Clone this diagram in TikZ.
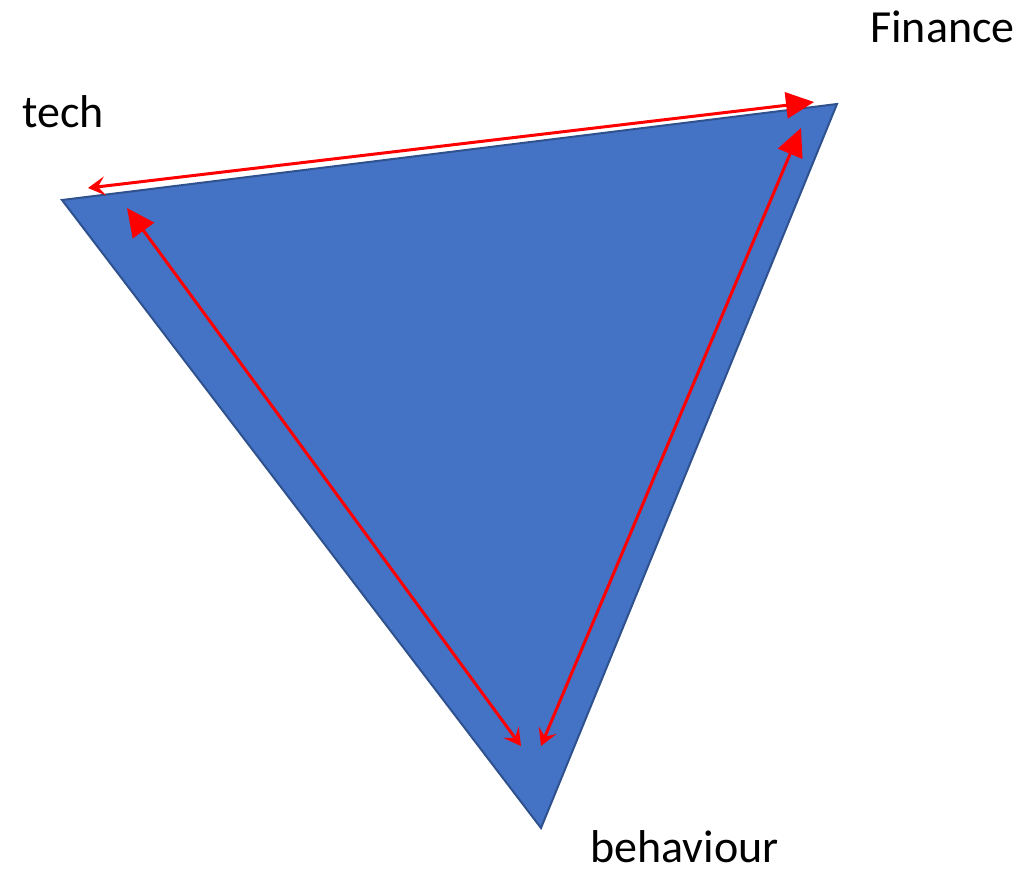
\documentclass[tikz,border=0pt]{standalone}
\usepackage{fontspec}
\setmainfont{Carlito}
\usetikzlibrary{arrows.meta}
\definecolor{triFill}{HTML}{4472C4}
\definecolor{triEdge}{HTML}{2F528F}
\definecolor{arrRed}{HTML}{FF0000}
\tikzset{
  lbl/.style={anchor=base west, inner sep=0pt, font=\fontsize{46}{50}\selectfont},
  twoway/.style={draw=arrRed, line width=3pt,
    {Stealth[length=17pt,width=19pt,inset=7pt]}-{Triangle[length=28pt,width=26pt]}}
}
\begin{document}
\begin{tikzpicture}[x=1pt,y=-1pt]
\useasboundingbox (0,0) rectangle (1035,868);
\coordinate (L) at (62,200);
\coordinate (R) at (837,104);
\coordinate (B) at (541,828);
\fill[triFill, draw=triEdge, line width=2pt, line join=miter] (L) -- (R) -- (B) -- cycle;
\coordinate (t1) at (88,188);
\coordinate (t2) at (814,102);
\coordinate (l1) at (521,746);
\coordinate (l2) at (127,208);
\coordinate (r1) at (541,746);
\coordinate (r2) at (801,128);
\draw[twoway] (t1) -- (t2);
\draw[twoway] (l1) -- (l2);
\draw[twoway] (r1) -- (r2);
\node[lbl] (fin) at (870,42) {Finance};
\node[lbl] (tech) at (22,127) {tech};
\node[lbl] (beh) at (590,862) {behaviour};
\end{tikzpicture}
\end{document}
